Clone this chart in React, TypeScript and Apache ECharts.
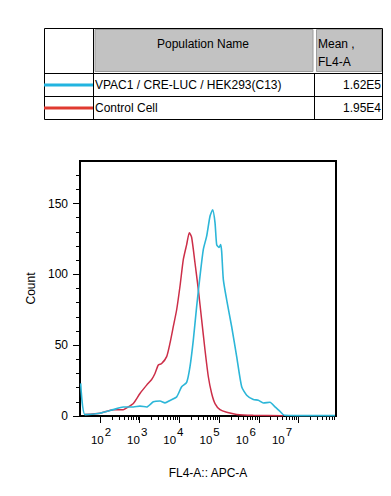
import React, { useEffect, useRef } from "react";
import * as echarts from "echarts";

// ---- data (x in log10 units of FL4-A intensity, y = count) ----
const vpacX = [1.513, 1.622, 2.0, 2.335, 2.587, 2.839, 3.007, 3.175, 3.343, 3.511, 3.637, 3.763, 3.931, 4.057, 4.183, 4.267, 4.351, 4.435, 4.519, 4.603, 4.687, 4.771, 4.838, 4.897, 4.939, 4.997, 5.04, 5.065, 5.107, 5.191, 5.317, 5.443, 5.569, 5.695, 5.863, 5.988, 6.114, 6.282, 6.408, 6.534, 6.643, 7.0, 7.5, 7.92];
const vpacY = [23, 1, 2, 4.5, 6.4, 6.4, 7, 6.4, 10, 10.6, 9.3, 11, 13.5, 20.6, 23.7, 34.8, 53.7, 77.4, 98.7, 117.6, 127, 141, 145.5, 136.5, 121, 119, 121, 116, 96.3, 82, 63, 41.9, 20.6, 14.7, 11.6, 11.2, 9.2, 9.7, 6.4, 3.3, 0.5, 0.3, 0.3, 0.3];

const ctrlX = [1.622, 2.0, 2.335, 2.587, 2.713, 2.839, 3.007, 3.175, 3.301, 3.385, 3.469, 3.553, 3.679, 3.763, 3.847, 3.931, 4.015, 4.099, 4.183, 4.25, 4.309, 4.393, 4.477, 4.561, 4.645, 4.729, 4.813, 4.897, 5.023, 5.191, 5.443, 5.863, 6.618];
const ctrlY = [1, 2, 4.5, 4.5, 6.4, 8.8, 15.9, 21.8, 25.8, 30, 36, 37, 41.9, 51.4, 63.2, 75, 91.6, 110.5, 121, 129.4, 126, 108, 89.2, 67.9, 46.6, 27.7, 15.9, 8.8, 4.5, 2.6, 1.1, 0.5, 0.2];

const xDecades = [2, 3, 4, 5, 6, 7];
const yMajorTicks = [0, 50, 100, 150];
const yMinorTicks = [10, 20, 30, 40, 60, 70, 80, 90, 110, 120, 130, 140, 160, 170];

const populationNames = ["VPAC1 / CRE-LUC / HEK293(C13)", "Control Cell"];
const meanValues = ["1.62E5", "1.95E4"];
const seriesColors = ["#2cb6d8", "#cc2e48"];
const legendColors = ["#22b4e0", "#e03a30"];

const FONT = "'Liberation Sans', Arial, Helvetica, sans-serif";
const X_MIN = 1.496;
const X_MAX = 7.945;

const minorXTicks: number[] = [];
for (let d = 2; d <= 7; d++) {
  for (let k = 2; k <= 9; k++) {
    const v = d + Math.log10(k);
    if (v <= X_MAX) minorXTicks.push(v);
  }
}

export default function App() {
  const ref = useRef<HTMLDivElement>(null);
  useEffect(() => {
    if (!ref.current) return;
    const chart = echarts.init(ref.current, undefined, { renderer: "svg" });

    const tableElements: any[] = [];
    tableElements.push({ type: "rect", shape: { x: 95, y: 29.5, width: 218, height: 42 }, style: { fill: "#c2c2c2", stroke: "#9c9c9c", lineWidth: 1 } });
    tableElements.push({ type: "rect", shape: { x: 316.5, y: 29.5, width: 65, height: 42 }, style: { fill: "#c2c2c2", stroke: "#9c9c9c", lineWidth: 1 } });
    tableElements.push({ type: "rect", shape: { x: 44.5, y: 28.5, width: 338, height: 91 }, style: { fill: "none", stroke: "#000", lineWidth: 1 } });
    tableElements.push({ type: "line", shape: { x1: 93.5, y1: 28.5, x2: 93.5, y2: 119.5 }, style: { stroke: "#000", lineWidth: 1 } });
    tableElements.push({ type: "line", shape: { x1: 314.5, y1: 73, x2: 314.5, y2: 119.5 }, style: { stroke: "#000", lineWidth: 1 } });
    tableElements.push({ type: "line", shape: { x1: 44.5, y1: 73.5, x2: 382.5, y2: 73.5 }, style: { stroke: "#000", lineWidth: 1 } });
    tableElements.push({ type: "line", shape: { x1: 44.5, y1: 96.5, x2: 382.5, y2: 96.5 }, style: { stroke: "#000", lineWidth: 1 } });
    tableElements.push({ type: "text", x: 203, y: 44, style: { text: "Population Name", font: `12px ${FONT}`, fill: "#000", align: "center", verticalAlign: "middle" } });
    tableElements.push({ type: "text", x: 318, y: 44, style: { text: "Mean ,", font: `12px ${FONT}`, fill: "#000", align: "left", verticalAlign: "middle" } });
    tableElements.push({ type: "text", x: 318, y: 62, style: { text: "FL4-A", font: `12px ${FONT}`, fill: "#000", align: "left", verticalAlign: "middle" } });
    populationNames.forEach((name, i) => {
      const cy = 85 + i * 23;
      tableElements.push({ type: "line", shape: { x1: 44, y1: cy, x2: 93, y2: cy }, style: { stroke: legendColors[i], lineWidth: 3 } });
      tableElements.push({ type: "text", x: 95, y: cy, style: { text: name, font: `12px ${FONT}`, fill: "#000", align: "left", verticalAlign: "middle" } });
      tableElements.push({ type: "text", x: 381, y: cy, style: { text: meanValues[i], font: `12px ${FONT}`, fill: "#000", align: "right", verticalAlign: "middle" } });
    });

    const axisCommonX = { type: "value", position: "bottom", min: X_MIN, max: X_MAX, splitLine: { show: false } };

    chart.setOption({
      animation: false,
      backgroundColor: "#fff",
      textStyle: { fontFamily: FONT },
      grid: {
        left: 80, right: 55, top: 161, bottom: 80,
        show: true, borderColor: "#000", borderWidth: 2, backgroundColor: "transparent",
        containLabel: false, outerBoundsMode: "none",
      },
      xAxis: [
        {
          ...axisCommonX,
          name: "FL4-A:: APC-A",
          nameLocation: "middle",
          nameGap: 51,
          nameTextStyle: { fontSize: 12, color: "#000", fontFamily: FONT },
          axisLine: { show: true, onZero: false, lineStyle: { color: "#000", width: 2 } },
          axisTick: { show: true, customValues: xDecades, length: 7, lineStyle: { color: "#000", width: 1 } },
          axisLabel: { show: false },
        },
        {
          ...axisCommonX,
          axisLine: { show: false, onZero: false },
          axisTick: { show: true, customValues: minorXTicks, length: 4, lineStyle: { color: "#000", width: 1 } },
          axisLabel: { show: false },
        },
        {
          type: "value", position: "bottom", min: 1.42, max: 8.49, splitLine: { show: false },
          axisLine: { show: false, onZero: false },
          axisTick: { show: false },
          axisLabel: {
            show: true,
            customValues: xDecades,
            margin: 9,
            formatter: (v: number) => `{b|10}{s|${Math.round(v)}}`,
            rich: {
              b: { fontSize: 11.5, color: "#000", fontFamily: FONT, padding: [9, 0, 0, 0] },
              s: { fontSize: 11.5, color: "#000", fontFamily: FONT, padding: [0, 0, 8, 1] },
            },
          },
        },
      ],
      yAxis: [
        {
          type: "value", position: "left", min: 0, max: 180,
          name: "Count",
          nameLocation: "middle",
          nameGap: 42,
          nameTextStyle: { fontSize: 12, color: "#000", fontFamily: FONT },
          splitLine: { show: false },
          axisLine: { show: true, onZero: false, lineStyle: { color: "#000", width: 2 } },
          axisTick: { show: true, customValues: yMajorTicks, length: 7, lineStyle: { color: "#000", width: 1 } },
          axisLabel: { show: true, customValues: yMajorTicks, margin: 12, fontSize: 12, color: "#000", fontFamily: FONT },
        },
        {
          type: "value", position: "left", min: 0, max: 180,
          splitLine: { show: false },
          axisLine: { show: false, onZero: false },
          axisTick: { show: true, customValues: yMinorTicks, length: 4, lineStyle: { color: "#000", width: 1 } },
          axisLabel: { show: false },
        },
      ],
      graphic: { elements: tableElements },
      series: [
        {
          type: "line",
          name: populationNames[1],
          xAxisIndex: 0, yAxisIndex: 0,
          data: ctrlX.map((x, i) => [x, ctrlY[i]]),
          showSymbol: false,
          smooth: 0.2,
          lineStyle: { color: seriesColors[1], width: 1.5 },
          z: 3,
        },
        {
          type: "line",
          name: populationNames[0],
          xAxisIndex: 0, yAxisIndex: 0,
          data: vpacX.map((x, i) => [x, vpacY[i]]),
          showSymbol: false,
          smooth: 0.2,
          lineStyle: { color: seriesColors[0], width: 1.6 },
          z: 4,
        },
      ],
    });
    return () => chart.dispose();
  }, []);

  return <div ref={ref} style={{ position: "absolute", left: 0, top: 0, width: 391, height: 496 }} />;
}
